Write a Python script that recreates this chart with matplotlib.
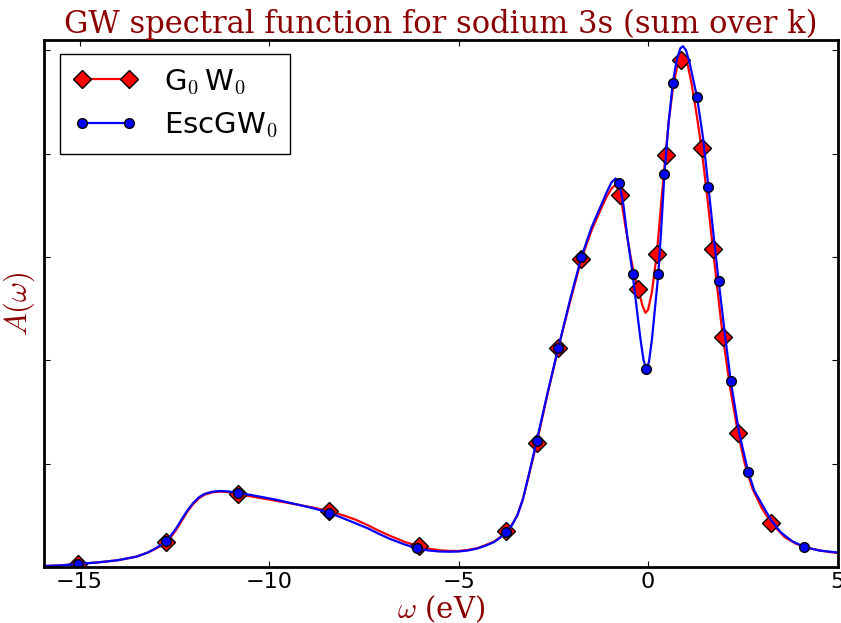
import matplotlib
matplotlib.use('Agg')
import matplotlib.pyplot as plt

plt.rcParams['mathtext.fontset'] = 'cm'

# G0W0 spectral function
g0w0_x = [-15.93, -15.5, -15.03, -14.5, -14.0, -13.5, -13.2, -13.0, -12.85, -12.71,
          -12.6, -12.45, -12.3, -12.15, -12.0, -11.85, -11.7, -11.5, -11.3, -11.1,
          -10.83, -10.3, -9.8, -9.2, -8.8, -8.42, -8.0, -7.7, -7.4, -7.1,
          -6.8, -6.4, -6.05, -5.8, -5.5, -5.25, -5.0, -4.75, -4.5, -4.3,
          -4.07, -3.9, -3.74, -3.6, -3.45, -3.3, -3.15, -2.94, -2.65, -2.37,
          -2.05, -1.76, -1.5, -1.3, -1.1, -0.95, -0.85, -0.73, -0.6, -0.45,
          -0.35, -0.26, -0.15, -0.07, 0.0, 0.1, 0.23, 0.34, 0.46, 0.55,
          0.65, 0.75, 0.855, 0.95, 1.05, 1.15, 1.28, 1.41, 1.56, 1.71,
          1.84, 1.97, 2.17, 2.37, 2.55, 2.75, 3.0, 3.24, 3.6, 3.9,
          4.2, 4.6, 5.0]
g0w0_y = [0.01, 0.015, 0.03, 0.045, 0.065, 0.10, 0.14, 0.175, 0.205, 0.245,
          0.285, 0.36, 0.45, 0.54, 0.61, 0.665, 0.70, 0.722, 0.73, 0.725,
          0.705, 0.672, 0.64, 0.60, 0.572, 0.54, 0.495, 0.455, 0.405, 0.35,
          0.30, 0.24, 0.20, 0.178, 0.162, 0.156, 0.155, 0.165, 0.183, 0.21,
          0.245, 0.29, 0.345, 0.405, 0.50, 0.66, 0.88, 1.20, 1.68, 2.12,
          2.58, 2.98, 3.25, 3.42, 3.58, 3.67, 3.70, 3.60, 3.30, 2.98,
          2.80, 2.69, 2.53, 2.46, 2.49, 2.66, 3.03, 3.50, 3.99, 4.33,
          4.62, 4.82, 4.91, 4.93, 4.85, 4.67, 4.38, 4.05, 3.58, 3.08,
          2.65, 2.23, 1.72, 1.30, 1.00, 0.76, 0.57, 0.43, 0.29, 0.225,
          0.185, 0.155, 0.135]
g0w0_mark_x = [-15.03, -12.71, -10.83, -8.42, -6.05, -3.74, -2.94, -2.37, -1.76, -0.73,
               -0.26, 0.23, 0.46, 0.855, 1.41, 1.71, 1.97, 2.37, 3.24]

# EscGW0 spectral function
esc_x = [-15.93, -15.5, -15.03, -14.5, -14.0, -13.5, -13.2, -13.0, -12.85, -12.71,
         -12.6, -12.45, -12.3, -12.15, -12.0, -11.85, -11.7, -11.5, -11.3, -11.1,
         -10.83, -10.3, -9.8, -9.2, -8.8, -8.42, -8.0, -7.7, -7.4, -7.1,
         -6.8, -6.4, -6.09, -5.8, -5.5, -5.25, -5.0, -4.75, -4.5, -4.3,
         -4.07, -3.9, -3.74, -3.6, -3.45, -3.3, -3.15, -2.94, -2.65, -2.37,
         -2.05, -1.76, -1.5, -1.3, -1.1, -0.97, -0.86, -0.76, -0.65, -0.55,
         -0.41, -0.3, -0.2, -0.12, -0.05, 0.02, 0.1, 0.18, 0.27, 0.35,
         0.43, 0.54, 0.65, 0.75, 0.85, 0.92, 1.0, 1.1, 1.2, 1.29,
         1.45, 1.59, 1.73, 1.86, 2.02, 2.18, 2.4, 2.64, 2.8, 3.0,
         3.25, 3.5, 3.8, 4.1, 4.5, 5.0]
esc_y = [0.01, 0.015, 0.03, 0.045, 0.065, 0.10, 0.14, 0.18, 0.215, 0.255,
         0.30, 0.375, 0.465, 0.55, 0.62, 0.675, 0.708, 0.728, 0.735, 0.732,
         0.72, 0.685, 0.65, 0.60, 0.565, 0.525, 0.465, 0.42, 0.375, 0.32,
         0.27, 0.215, 0.18, 0.16, 0.15, 0.148, 0.15, 0.16, 0.18, 0.205,
         0.24, 0.285, 0.34, 0.40, 0.50, 0.66, 0.89, 1.22, 1.69, 2.12,
         2.60, 3.00, 3.28, 3.45, 3.62, 3.72, 3.76, 3.72, 3.50, 3.20,
         2.84, 2.50, 2.20, 2.00, 1.92, 1.98, 2.20, 2.50, 2.84, 3.30,
         3.80, 4.30, 4.68, 4.90, 5.02, 5.04, 5.00, 4.87, 4.70, 4.55,
         4.15, 3.68, 3.20, 2.77, 2.27, 1.80, 1.30, 0.92, 0.74, 0.61,
         0.45, 0.335, 0.25, 0.197, 0.16, 0.14]
esc_mark_x = [-15.03, -12.71, -10.83, -8.42, -6.09, -3.74, -2.94, -2.37, -1.76, -0.76,
              -0.41, -0.05, 0.27, 0.43, 0.65, 1.29, 1.59, 1.86, 2.18, 2.64, 4.1]

g0w0_marks = [g0w0_x.index(v) for v in g0w0_mark_x]
esc_marks = [esc_x.index(v) for v in esc_mark_x]

dark = '#8b0000'

fig = plt.figure(figsize=(8.41, 6.23), dpi=100)
ax = fig.add_axes([0.0527, 0.0899, 0.9433, 0.8459])

ax.plot(g0w0_x, g0w0_y, color='red', lw=1.6, marker='D', markersize=9,
        markerfacecolor='red', markeredgecolor='black', markevery=g0w0_marks,
        label='G$_0\\,$W$_0$')
ax.plot(esc_x, esc_y, color='blue', lw=1.6, marker='o', markersize=7,
        markerfacecolor='blue', markeredgecolor='black', markevery=esc_marks,
        label='EscGW$_0$')

ax.set_xlim(-15.93, 5)
ax.set_ylim(0, 5.1)
ax.set_xticks([-15, -10, -5, 0, 5])
ax.set_yticks([0, 1, 2, 3, 4, 5])
ax.set_yticklabels([])
ax.tick_params(direction='in', top=True, right=True, length=4, labelsize=16)
for s in ax.spines.values():
    s.set_linewidth(2)

ax.set_title('GW spectral function for sodium 3s (sum over k)', family='DejaVu Serif',
             fontsize=22, color=dark, pad=5)
ax.set_xlabel(r'$\omega$ (eV)', family='DejaVu Serif', fontsize=21, color=dark, labelpad=1)
ax.set_ylabel(r'$A(\omega)$', fontsize=22, color=dark, labelpad=2)

leg = ax.legend(loc='upper left', fontsize=21, numpoints=2, fancybox=False,
                borderpad=0.45, handlelength=2.2, handletextpad=0.9,
                borderaxespad=0, bbox_to_anchor=(0.02, 0.973))
leg.get_frame().set_edgecolor('black')
leg.get_frame().set_alpha(1)

fig.savefig('out.png', dpi=100)
